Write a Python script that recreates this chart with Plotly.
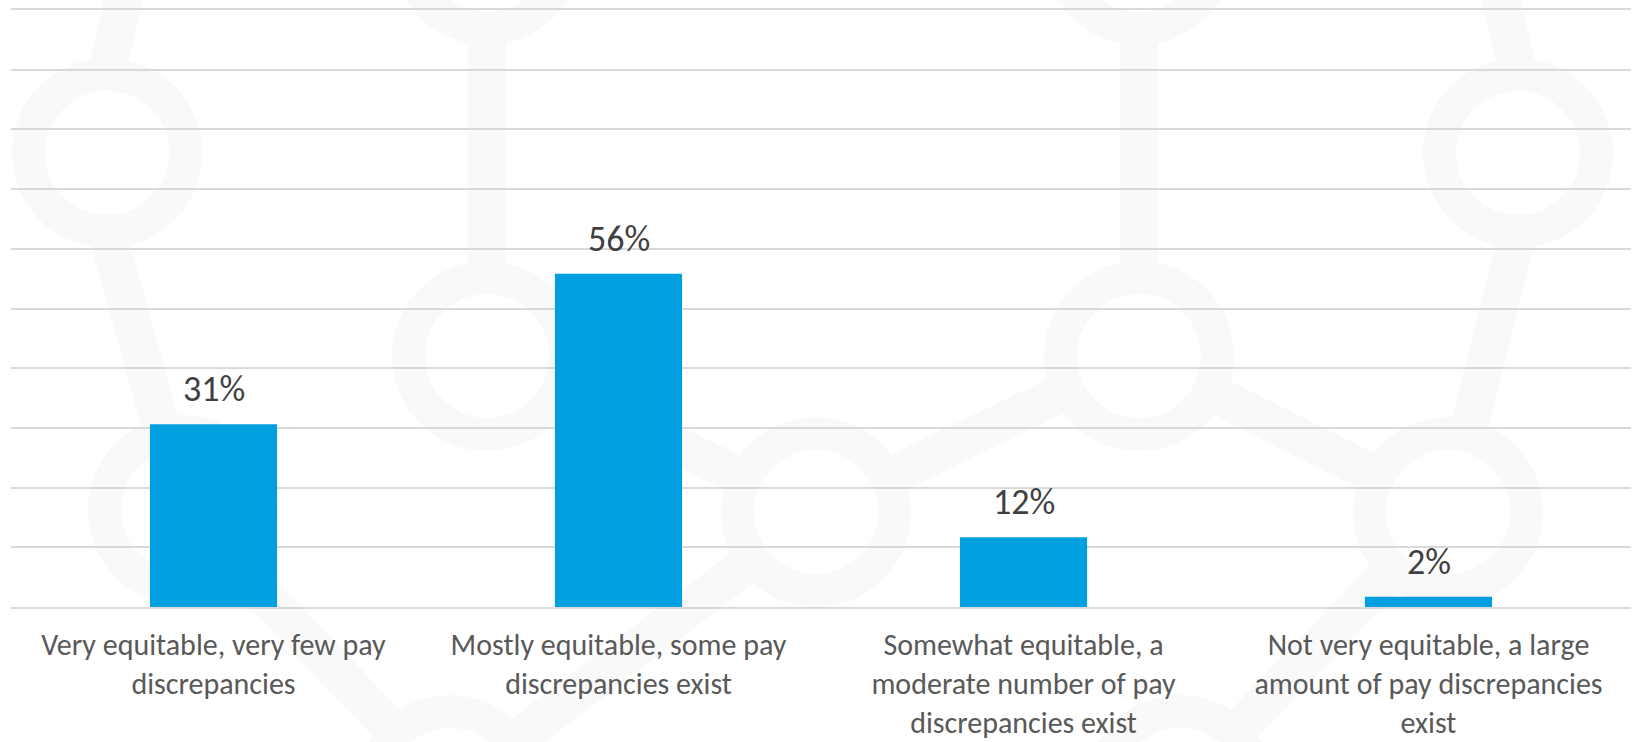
import math
import plotly.graph_objects as go

# ---------------- data ----------------
categories = [
    "Very equitable, very few pay<br>discrepancies",
    "Mostly equitable, some pay<br>discrepancies exist",
    "Somewhat equitable, a<br>moderate number of pay<br>discrepancies exist",
    "Not very equitable, a large<br>amount of pay discrepancies<br>exist",
]
shares = [30.6, 55.8, 11.7, 1.7]          # percent (labels show rounded values)
y_ticks = list(range(0, 101, 10))          # gridlines every 10%

# ---------------- styling / layout ----------------
W_PX, H_PX = 1636, 742
MARGIN = dict(l=11, r=5, t=10, b=135)
PW = W_PX - MARGIN["l"] - MARGIN["r"]
PH = H_PX - MARGIN["t"] - MARGIN["b"]
FONT = "Calibri, Carlito, Lato, sans-serif"
BAR_COLOR = "#009FDF"
GRID_COLOR = "#D9D9D9"
WM_COLOR = "#F9F9F9"

# decorative background watermark (network of rings) in pixel space
wm_rings = {
    "A": (107, 153), "B": (487, -50), "C": (487, 356), "D": (1139, -50),
    "E": (1139, 356), "F": (1518, 153), "G": (816, 512), "H": (183, 510),
    "I": (450, 790), "J": (1180, 790), "K": (1448, 512),
}
wm_ring_links = [("B", "C"), ("D", "E"), ("C", "G"), ("E", "G"), ("E", "K"),
                 ("G", "I"), ("H", "I"), ("K", "J")]
wm_free_links = [((106, 75), (140, -70)), ((107, 232), (163, 434)),
                 ((1519, 75), (1483, -70)), ((1518, 232), (1467, 436))]
R_MID, RING_W, LINK_W = 78.5, 33, 38


def px2paper(x, y):
    return (x - MARGIN["l"]) / PW, (H_PX - MARGIN["b"] - y) / PH


shapes = []
for cx, cy in wm_rings.values():
    x0, y0 = px2paper(cx - R_MID, cy + R_MID)
    x1, y1 = px2paper(cx + R_MID, cy - R_MID)
    shapes.append(dict(type="circle", xref="paper", yref="paper",
                       x0=x0, y0=y0, x1=x1, y1=y1, layer="below",
                       line=dict(color=WM_COLOR, width=RING_W),
                       fillcolor="rgba(0,0,0,0)"))

segments = list(wm_free_links)
for a, b in wm_ring_links:
    (ax, ay), (bx, by) = wm_rings[a], wm_rings[b]
    d = math.hypot(bx - ax, by - ay)
    ux, uy = (bx - ax) / d, (by - ay) / d
    segments.append(((ax + ux * R_MID, ay + uy * R_MID),
                     (bx - ux * R_MID, by - uy * R_MID)))
for (p, q) in segments:
    x0, y0 = px2paper(*p)
    x1, y1 = px2paper(*q)
    shapes.append(dict(type="line", xref="paper", yref="paper",
                       x0=x0, y0=y0, x1=x1, y1=y1, layer="below",
                       line=dict(color=WM_COLOR, width=LINK_W)))

fig = go.Figure(go.Bar(
    x=categories, y=shares, marker=dict(color=BAR_COLOR, line=dict(width=0)),
    hoverinfo="skip",
))

annotations = [
    dict(x=c, y=v, xref="x", yref="y", text=f"{v:.0f}%", showarrow=False,
         yanchor="bottom", yshift=11,
         font=dict(family=FONT, size=36, color="#404040"))
    for c, v in zip(categories, shares)
]

fig.update_layout(
    width=W_PX, height=H_PX, margin=MARGIN,
    paper_bgcolor="white", plot_bgcolor="rgba(0,0,0,0)",
    bargap=0.686, showlegend=False,
    shapes=shapes, annotations=annotations,
    font=dict(family=FONT),
)
fig.update_xaxes(
    showgrid=False, zeroline=False, ticks="", tickangle=0,
    showline=True, mirror=True, linecolor=GRID_COLOR, linewidth=1.5,
    tickfont=dict(family=FONT, size=30, color="#595959"),
    ticklabelstandoff=10, automargin=False,
)
fig.update_yaxes(
    range=[0, 100], tickvals=y_ticks, showticklabels=False,
    showgrid=True, gridcolor=GRID_COLOR, gridwidth=1.5, zeroline=False,
    showline=False, automargin=False,
)

fig.write_html("out.html")
